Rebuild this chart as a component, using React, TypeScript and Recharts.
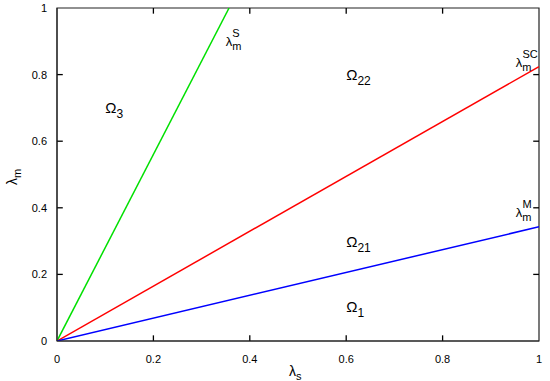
import React from "react"
import { LineChart, Line, XAxis, YAxis, ReferenceDot, ReferenceArea } from "recharts"

// boundary lines (all through the origin)
const sX = [0, 0.357]
const sY = [0, 1]
const scX = [0, 1]
const scY = [0, 0.824]
const mX = [0, 1]
const mY = [0, 0.343]

const ticks = [0, 0.2, 0.4, 0.6, 0.8, 1]

// region labels: [name, subscript, x, y]
const regions: Array<[string, string, number, number]> = [
  ["Ω", "3", 0.1, 0.685],
  ["Ω", "22", 0.6, 0.784],
  ["Ω", "21", 0.6, 0.282],
  ["Ω", "1", 0.6, 0.087],
]

// curve labels: [superscript, x, y]
const curveLabels: Array<[string, number, number]> = [
  ["S", 0.35, 0.886],
  ["SC", 0.952, 0.823],
  ["M", 0.952, 0.372],
]

const toPts = (xs: number[], ys: number[]) => xs.map((x, i) => ({ x, y: ys[i] }))

const FONT = "'Liberation Sans', Arial, sans-serif"
const AX = "#222"
// inward tick length as a fraction of each axis range
const TX = 0.012
const TY = 0.017

const inner = ticks.slice(1, -1)

const RegionText = (props: any) => {
  const { cx, cy, main, sub } = props
  return (
    <text x={cx} y={cy} fontFamily={FONT} fontSize={15} fill="#000">
      <tspan>{main}</tspan>
      <tspan fontSize={12} dy={5}>{sub}</tspan>
    </text>
  )
}

const LambdaText = (props: any) => {
  const { cx, cy, sup } = props
  return (
    <text x={cx} y={cy} fontFamily={FONT} fontSize={13} fill="#000">
      <tspan>λ</tspan>
      <tspan fontSize={11} dy={4}>m</tspan>
      <tspan fontSize={11} dx={-9} dy={-13}>{sup}</tspan>
    </text>
  )
}

export default function App() {
  const fmt = (v: number) => String(v)
  const seg = (key: string, a: { x: number; y: number }, b: { x: number; y: number }) => (
    <Line
      key={key}
      xAxisId="b"
      yAxisId="l"
      data={[a, b]}
      dataKey="y"
      stroke="#000"
      strokeWidth={1.3}
      dot={false}
      isAnimationActive={false}
    />
  )
  return (
    <div style={{ position: "absolute", left: 0, top: 0, width: 550, height: 381, background: "#fff" }}>
      <LineChart width={550} height={381} margin={{ top: 8, right: 11, left: 0, bottom: 0 }}>
        <XAxis
          xAxisId="b"
          dataKey="x"
          type="number"
          domain={[0, 1]}
          ticks={ticks}
          tickFormatter={fmt}
          height={40}
          stroke={AX}
          tickLine={false}
          tickMargin={8}
          tick={{ fontSize: 11, fontFamily: FONT, fill: "#000" }}
          allowDataOverflow
        />
        <YAxis
          yAxisId="l"
          dataKey="y"
          type="number"
          domain={[0, 1]}
          ticks={ticks}
          tickFormatter={fmt}
          width={57}
          stroke={AX}
          tickLine={false}
          tickMargin={4}
          tick={{ fontSize: 11, fontFamily: FONT, fill: "#000" }}
          allowDataOverflow
        />
        <ReferenceArea xAxisId="b" yAxisId="l" x1={0} x2={1} y1={0} y2={1} fill="none" stroke={AX} strokeWidth={1.2} />
        {inner.map((t) => seg("xb" + t, { x: t, y: 0 }, { x: t, y: TY }))}
        {inner.map((t) => seg("xt" + t, { x: t, y: 1 - TY }, { x: t, y: 1 }))}
        {inner.map((t) => seg("yl" + t, { x: 0, y: t }, { x: TX, y: t }))}
        {inner.map((t) => seg("yr" + t, { x: 1 - TX, y: t }, { x: 1, y: t }))}
        <Line xAxisId="b" yAxisId="l" data={toPts(sX, sY)} dataKey="y" stroke="#00e000" strokeWidth={1.5} dot={false} isAnimationActive={false} />
        <Line xAxisId="b" yAxisId="l" data={toPts(scX, scY)} dataKey="y" stroke="#ff0000" strokeWidth={1.5} dot={false} isAnimationActive={false} />
        <Line xAxisId="b" yAxisId="l" data={toPts(mX, mY)} dataKey="y" stroke="#0000ff" strokeWidth={1.5} dot={false} isAnimationActive={false} />
        {regions.map(([main, sub, x, y]) => (
          <ReferenceDot
            key={main + sub}
            xAxisId="b"
            yAxisId="l"
            x={x}
            y={y}
            r={0}
            ifOverflow="visible"
            shape={(p: any) => <RegionText {...p} main={main} sub={sub} />}
          />
        ))}
        {curveLabels.map(([sup, x, y]) => (
          <ReferenceDot
            key={sup}
            xAxisId="b"
            yAxisId="l"
            x={x}
            y={y}
            r={0}
            ifOverflow="visible"
            shape={(p: any) => <LambdaText {...p} sup={sup} />}
          />
        ))}
      </LineChart>
      <svg width={550} height={381} style={{ position: "absolute", left: 0, top: 0, pointerEvents: "none" }}>
        <text x={289} y={376} fontFamily={FONT} fontSize={14} fill="#000">
          <tspan>λ</tspan>
          <tspan fontSize={11} dy={4}>s</tspan>
        </text>
        <text transform="translate(17,185) rotate(-90)" fontFamily={FONT} fontSize={14} fill="#000">
          <tspan>λ</tspan>
          <tspan fontSize={11} dy={4}>m</tspan>
        </text>
      </svg>
    </div>
  )
}
